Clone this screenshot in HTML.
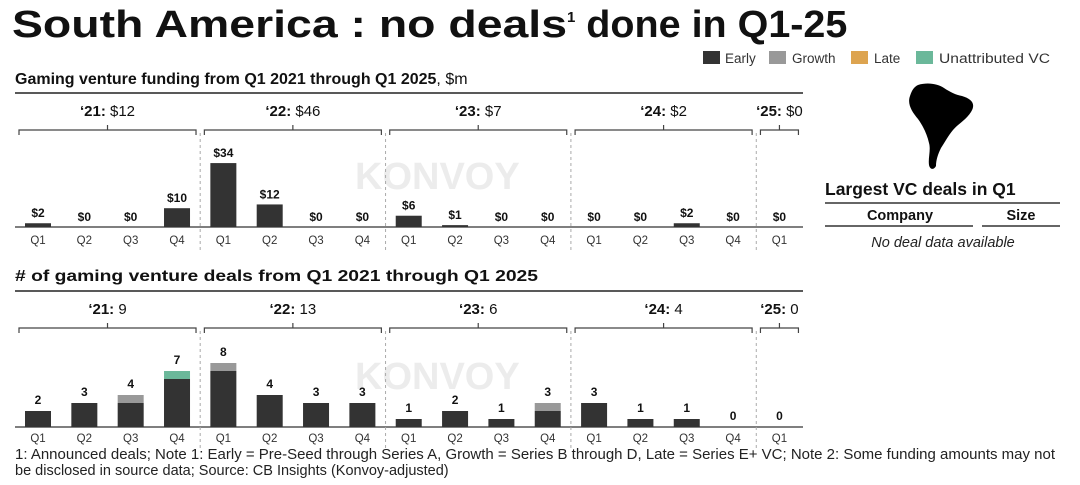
<!DOCTYPE html>
<html><head><meta charset="utf-8"><style>
body{margin:0;background:#fff;font-family:"Liberation Sans",sans-serif;}
svg text{font-family:"Liberation Sans",sans-serif;}
</style></head><body>
<svg id="c" width="1080" height="480" viewBox="0 0 1080 480" xmlns="http://www.w3.org/2000/svg">
<text x="12" y="37" font-size="38" font-weight="bold" fill="#111"><tspan textLength="555" lengthAdjust="spacingAndGlyphs">South America : no deals</tspan><tspan font-size="15" dy="-15">1</tspan><tspan dy="15" textLength="272" lengthAdjust="spacingAndGlyphs"> done in Q1-25</tspan></text>
<g>
<rect x="703" y="51" width="17" height="13" fill="#333"/><text x="725" y="63" font-size="13.5" fill="#333">Early</text>
<rect x="769" y="51" width="17" height="13" fill="#999"/><text x="792" y="63" font-size="13.5" fill="#333">Growth</text>
<rect x="851" y="51" width="17" height="13" fill="#DDA450"/><text x="874" y="63" font-size="13.5" fill="#333">Late</text>
<rect x="916" y="51" width="17" height="13" fill="#6BB89A"/><text x="939" y="63" font-size="13.5" fill="#333" textLength="111" lengthAdjust="spacingAndGlyphs">Unattributed VC</text>
</g>
<text x="15" y="84" font-size="16" font-weight="bold" fill="#111">Gaming venture funding from Q1 2021 through Q1 2025<tspan font-weight="normal">, $m</tspan></text>
<text x="15" y="281" font-size="16" font-weight="bold" fill="#111" textLength="523" lengthAdjust="spacingAndGlyphs"># of gaming venture deals from Q1 2021 through Q1 2025</text>
<path d="M918,85 C928,82 938,84 944,88 C950,92 956,95 962,96 C972,99 976,104 971,112 C966,120 958,124 953,130 C948,136 945,142 941,148 C938,154 936,160 936,166 C934,170 930,170 929,165 C928,158 931,150 929,143 C927,134 923,126 918,119 C912,112 907,104 910,96 C912,90 914,87 918,85Z" fill="#000"/>
<text x="825" y="195" font-size="17.5" font-weight="bold" fill="#111">Largest VC deals in Q1</text>
<line x1="825" y1="203" x2="1060" y2="203" stroke="#333" stroke-width="1.5"/>
<text x="900" y="220" font-size="14.5" font-weight="bold" text-anchor="middle" fill="#111">Company</text>
<text x="1021" y="220" font-size="14.5" font-weight="bold" text-anchor="middle" fill="#111">Size</text>
<line x1="825" y1="226" x2="973" y2="226" stroke="#333" stroke-width="1.5"/>
<line x1="982" y1="226" x2="1060" y2="226" stroke="#333" stroke-width="1.5"/>
<text x="943" y="247" font-size="14.5" font-style="italic" text-anchor="middle" fill="#222">No deal data available</text>
<text x="15" y="459" font-size="14.5" fill="#222" textLength="1040" lengthAdjust="spacingAndGlyphs">1: Announced deals; Note 1: Early = Pre-Seed through Series A, Growth = Series B through D, Late = Series E+ VC; Note 2: Some funding amounts may not</text>
<text x="15" y="475" font-size="14.5" fill="#222">be disclosed in source data; Source: CB Insights (Konvoy-adjusted)</text>
</svg>
<script>
const quarters=["Q1","Q2","Q3","Q4","Q1","Q2","Q3","Q4","Q1","Q2","Q3","Q4","Q1","Q2","Q3","Q4","Q1"];
const funding=[2,0,0,10,34,12,0,0,6,1,0,0,0,0,2,0,0];
const dealsEarly=[2,3,3,6,7,4,3,3,1,2,1,2,3,1,1,0,0];
const dealsGrowth=[0,0,1,0,1,0,0,0,0,0,0,1,0,0,0,0,0];
const dealsUnattr=[0,0,0,1,0,0,0,0,0,0,0,0,0,0,0,0,0];
const years=["'21","'22","'23","'24","'25"];
const yearFunding=["$12","$46","$7","$2","$0"];
const yearDeals=["9","13","6","4","0"];
const NS="http://www.w3.org/2000/svg";
const svg=document.getElementById('c');
function el(t,a,txt){const e=document.createElementNS(NS,t);for(const k in a)e.setAttribute(k,a[k]);if(txt!=null)e.textContent=txt;svg.appendChild(e);return e;}
function xq(i){return 38+i*46.34;}
const bw=26;
function drawFrame(top,base,qy,labels,prefix){
  let w=el('text',{x:355,y:base-38,'font-size':38,'font-weight':'bold',fill:'#ececec'},'KONVOY');
  
  
  let r=el('line',{x1:15,y1:top,x2:803,y2:top,stroke:'#222','stroke-width':1.5});
  
  
  let b=el('line',{x1:15,y1:base,x2:803,y2:base,stroke:'#555','stroke-width':1.5});
  
  
  for(let y=0;y<5;y++){
    const i0=y*4,i1=Math.min(y*4+3,16);
    const x0=xq(i0)-19,x1=xq(i1)+19,cx=(x0+x1)/2;
    const by=top+37;
    let p=el('path',{d:`M${x0},${by+5}V${by}H${x1}V${by+5}M${cx},${by}V${by-5}`,fill:'none',stroke:'#444','stroke-width':1.2});
    
    
    let t=el('text',{x:cx,y:top+23,'font-size':15,'text-anchor':'middle',fill:'#111'});
    
    
    const s1=document.createElementNS(NS,'tspan');s1.setAttribute('font-weight','bold');s1.textContent=years[y].replace("'","\u2018")+': ';t.appendChild(s1);
    const s2=document.createElementNS(NS,'tspan');s2.textContent=labels[y];t.appendChild(s2);
    if(y>0){const dx=(xq(i0)+xq(i0-1))/2;
      let d=el('line',{x1:dx,y1:top+40,x2:dx,y2:qy+8,stroke:'#aaa','stroke-dasharray':'3,3'});
      
      }
  }
  quarters.forEach((q,i)=>{let t=el('text',{x:xq(i),y:qy,'font-size':11.5,'text-anchor':'middle',fill:'#333'},q);
    
    });
}
const fBase=227,fScale=1.88;
drawFrame(93,fBase,244,yearFunding,'funding');
funding.forEach((v,i)=>{
  const h=v*fScale;
  let r=el('rect',{x:xq(i)-bw/2,y:fBase-h,width:bw,height:h,fill:'#333'});
  
  
  let t=el('text',{x:xq(i),y:fBase-h-6,'font-size':12,'font-weight':'bold','text-anchor':'middle',fill:'#111'},'$'+v);
  
  
});
const dBase=427,dScale=8;
drawFrame(291,dBase,442,yearDeals,'deals');
quarters.forEach((q,i)=>{
  let y=dBase;
  [[dealsEarly,'#333','deals-bar-early'],[dealsGrowth,'#999','deals-bar-growth'],[dealsUnattr,'#6BB89A','deals-bar-unattributed']].forEach(([arr,c,n])=>{
    const h=arr[i]*dScale;if(h<=0)return;y-=h;
    let r=el('rect',{x:xq(i)-bw/2,y:y,width:bw,height:h,fill:c});
    
    
  });
  const tot=dealsEarly[i]+dealsGrowth[i]+dealsUnattr[i];
  let t=el('text',{x:xq(i),y:dBase-tot*dScale-7,'font-size':12,'font-weight':'bold','text-anchor':'middle',fill:'#111'},String(tot));
  
  
});
</script>
</body></html>
